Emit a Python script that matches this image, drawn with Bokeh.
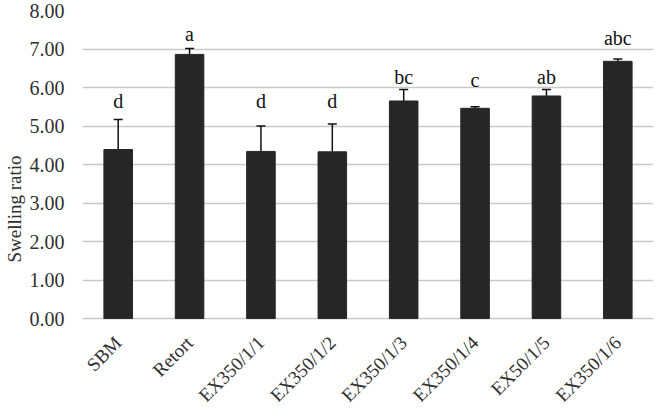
import math
from bokeh.plotting import figure
from bokeh.models import ColumnDataSource, FactorRange, Whisker, FixedTicker, NumeralTickFormatter, Range1d
from bokeh.core.properties import value
from bokeh.embed import file_html
from bokeh.resources import INLINE

categories = ["SBM", "Retort", "EX350/1/1", "EX350/1/2", "EX350/1/3", "EX350/1/4", "EX50/1/5", "EX350/1/6"]
means = [4.39, 6.86, 4.34, 4.33, 5.65, 5.46, 5.78, 6.68]
errors = [0.78, 0.15, 0.66, 0.72, 0.30, 0.04, 0.17, 0.06]
letters = ["d", "a", "d", "d", "bc", "c", "ab", "abc"]
letter_y = [5.64, 7.40, 5.64, 5.64, 6.27, 6.19, 6.27, 7.28]
y_ticks = [0, 1, 2, 3, 4, 5, 6, 7, 8]

FONT = "Liberation Serif"
TEXT_COLOR = "#303030"

src = ColumnDataSource(dict(
    x=categories, top=means,
    upper=[m + e for m, e in zip(means, errors)],
    lower=[m - e for m, e in zip(means, errors)],
    ly=letter_y, lt=letters,
    zero=[0] * len(categories),
))

# frame extends below zero so the rotated category labels can be drawn inside it
p = figure(x_range=FactorRange(*categories, range_padding=0), y_range=Range1d(-2.31, 8),
           width=653, height=407, output_backend="svg", toolbar_location=None,
           min_border_left=76, min_border_right=0, min_border_top=10, min_border_bottom=0)
p.outline_line_color = None
p.background_fill_color = "white"
p.border_fill_color = "white"
p.xaxis.visible = False

p.vbar(x="x", top="top", width=0.4, source=src, fill_color="#262626", line_color="#262626")

w = Whisker(base="x", upper="upper", lower="lower", source=src, line_color="#111111", line_width=1.5)
w.upper_head.size = 9
w.upper_head.line_color = "#111111"
w.upper_head.line_width = 1.5
w.lower_head.size = 9
w.lower_head.line_color = "#222222"
w.lower_head.line_width = 1.5
p.add_layout(w)

p.text(x="x", y="ly", text="lt", source=src, text_font=value(FONT), text_font_size="20px",
       text_align="center", text_baseline="alphabetic", text_color="#111111")

# category labels, rotated 45 degrees, right end at the category centre
p.text(x="x", y="zero", text="x", source=src, angle=math.pi / 4,
       text_align="right", text_baseline="middle", x_offset=0, y_offset=21,
       text_font=value(FONT), text_font_size="19px", text_color=TEXT_COLOR)

p.xgrid.grid_line_color = None
p.ygrid.grid_line_color = "#c9c9c9"
p.ygrid.grid_line_width = 1.5

p.yaxis.ticker = FixedTicker(ticks=y_ticks)
p.yaxis.bounds = (0, 8)
p.yaxis.formatter = NumeralTickFormatter(format="0.00")
p.yaxis.axis_line_color = None
p.yaxis.major_tick_line_color = None
p.yaxis.minor_tick_line_color = None
p.yaxis.major_label_standoff = 12
p.yaxis.major_label_text_font = FONT
p.yaxis.major_label_text_font_size = "20px"
p.yaxis.major_label_text_color = TEXT_COLOR
p.yaxis.axis_label = "Swelling ratio"
p.yaxis.axis_label_text_font = FONT
p.yaxis.axis_label_text_font_size = "19px"
p.yaxis.axis_label_text_font_style = "normal"
p.yaxis.axis_label_text_color = TEXT_COLOR
p.yaxis.axis_label_standoff = 2

open("out.html", "w").write(file_html(p, INLINE))
